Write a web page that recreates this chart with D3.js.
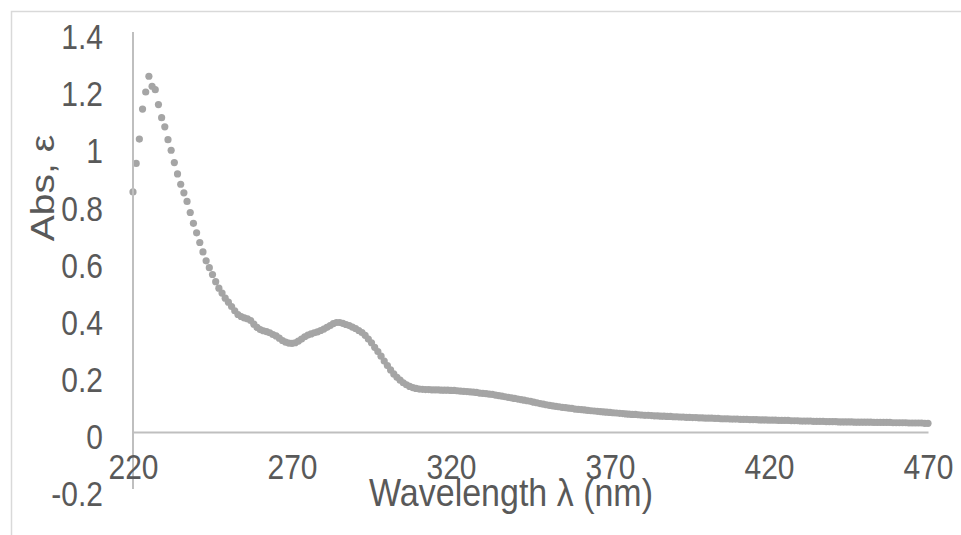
<!DOCTYPE html>
<html>
<head>
<meta charset="utf-8">
<script src="https://cdn.jsdelivr.net/npm/d3@7"></script>
<style>
  html, body { margin: 0; padding: 0; background: #fff; }
  svg { display: block; }
  text { font-family: "Liberation Sans", Arial, sans-serif; fill: #595959; }
</style>
</head>
<body>
<svg id="chart" width="961" height="535"></svg>
<script>
// Wavelength (nm), 1 nm steps from 220 to 470
const wavelengthStart = 220;
const wavelengthEnd = 470;

// Absorbance values, one per nm (220..470)
const absorbance = [
  // 220-229
  0.840, 0.940, 1.025, 1.130, 1.190, 1.245, 1.210, 1.198, 1.146, 1.100,
  // 230-239
  1.068, 1.023, 0.986, 0.943, 0.903, 0.867, 0.837, 0.807, 0.768, 0.730,
  // 240-249
  0.697, 0.663, 0.630, 0.599, 0.575, 0.551, 0.526, 0.503, 0.486, 0.468,
  // 250-259
  0.454, 0.439, 0.424, 0.411, 0.404, 0.399, 0.396, 0.390, 0.377, 0.366,
  // 260-269
  0.358, 0.354, 0.351, 0.347, 0.341, 0.336, 0.328, 0.320, 0.314, 0.311,
  // 270-279
  0.310, 0.312, 0.318, 0.325, 0.333, 0.339, 0.343, 0.347, 0.350, 0.355,
  // 280-289
  0.360, 0.366, 0.372, 0.379, 0.383, 0.383, 0.380, 0.376, 0.372, 0.367,
  // 290-299
  0.362, 0.355, 0.348, 0.338, 0.325, 0.312, 0.296, 0.281, 0.265, 0.248,
  // 300-309
  0.232, 0.217, 0.203, 0.191, 0.181, 0.172, 0.165, 0.159, 0.155, 0.152,
  // 310-319
  0.150, 0.149, 0.148, 0.148, 0.147, 0.147, 0.147, 0.146, 0.146, 0.146,
  // 320-329
  0.145, 0.145, 0.144, 0.143, 0.142, 0.141, 0.140, 0.139, 0.138, 0.136,
  // 330-339
  0.135, 0.134, 0.132, 0.131, 0.129, 0.127, 0.125, 0.123, 0.121, 0.119,
  // 340-349
  0.117, 0.115, 0.113, 0.111, 0.109, 0.107, 0.104, 0.102, 0.099, 0.097,
  // 350-359
  0.095, 0.093, 0.091, 0.089, 0.088, 0.086, 0.085, 0.083, 0.082, 0.080,
  // 360-369
  0.079, 0.078, 0.077, 0.075, 0.074, 0.073, 0.072, 0.071, 0.070, 0.069,
  // 370-379
  0.068, 0.067, 0.066, 0.065, 0.064, 0.063, 0.062, 0.061, 0.061, 0.060,
  // 380-389
  0.059, 0.058, 0.058, 0.057, 0.056, 0.056, 0.055, 0.055, 0.054, 0.054,
  // 390-399
  0.053, 0.053, 0.052, 0.052, 0.051, 0.051, 0.050, 0.050, 0.049, 0.049,
  // 400-409
  0.048, 0.048, 0.048, 0.047, 0.047, 0.046, 0.046, 0.046, 0.045, 0.045,
  // 410-419
  0.045, 0.044, 0.044, 0.044, 0.043, 0.043, 0.043, 0.042, 0.042, 0.042,
  // 420-429
  0.041, 0.041, 0.041, 0.040, 0.040, 0.040, 0.040, 0.039, 0.039, 0.039,
  // 430-439
  0.038, 0.038, 0.038, 0.038, 0.037, 0.037, 0.037, 0.037, 0.036, 0.036,
  // 440-449
  0.036, 0.036, 0.035, 0.035, 0.035, 0.035, 0.035, 0.034, 0.034, 0.034,
  // 450-459
  0.034, 0.034, 0.034, 0.033, 0.033, 0.033, 0.033, 0.033, 0.033, 0.032,
  // 460-469
  0.032, 0.032, 0.032, 0.032, 0.031, 0.031, 0.031, 0.031, 0.031, 0.030,
  // 470
  0.030
];

const xTicks = [220, 270, 320, 370, 420, 470];
const yTicks = [-0.2, 0, 0.2, 0.4, 0.6, 0.8, 1, 1.2, 1.4];
const yTickLabels = ["-0.2", "0", "0.2", "0.4", "0.6", "0.8", "1", "1.2", "1.4"];
const xTitle = "Wavelength λ (nm)";
const yTitle = "Abs, ε";

const data = absorbance.map((v, i) => ({ wl: wavelengthStart + i, abs: v }));

const svg = d3.select("#chart");
const stretch = 1.15;

// chart area border
svg.append("rect")
  .attr("x", 11.5).attr("y", 11.5)
  .attr("width", 980).attr("height", 560)
  .attr("fill", "none").attr("stroke", "#d9d9d9").attr("stroke-width", 1.5);

const x = d3.scaleLinear().domain([wavelengthStart, wavelengthEnd]).range([133, 928]);
const y = d3.scaleLinear().domain([-0.2, 1.4]).range([489, 32]);

// markers
svg.append("g")
  .selectAll("circle")
  .data(data)
  .join("circle")
  .attr("cx", d => x(d.wl))
  .attr("cy", d => y(d.abs))
  .attr("r", 3.6)
  .attr("fill", "#a5a5a5");

const axisColor = "#bfbfbf";

// y axis
const yAxis = d3.axisLeft(y).tickValues(yTicks).tickSize(0)
  .tickFormat((d, i) => yTickLabels[i]);
const yg = svg.append("g").attr("transform", `translate(${x(wavelengthStart)},0)`).call(yAxis);
yg.select(".domain").attr("stroke", axisColor).attr("stroke-width", 2)
  .attr("d", `M0,${y(1.4)}V${y(-0.2)}`);
yg.selectAll("text")
  .attr("x", null).attr("dy", null)
  .attr("dominant-baseline", "central")
  .attr("transform", `translate(-30,5) scale(1,${stretch})`)
  .style("font-size", "30px")
  .attr("fill", "#595959");

// x axis
const xAxis = d3.axisBottom(x).tickValues(xTicks).tickSize(0).tickFormat(d3.format("d"));
const xg = svg.append("g").attr("transform", `translate(0,${y(0)})`).call(xAxis);
xg.select(".domain").attr("stroke", axisColor).attr("stroke-width", 2);
xg.selectAll("text")
  .attr("y", null).attr("dy", null)
  .attr("dominant-baseline", "central")
  .attr("transform", `translate(0,35) scale(1,${stretch})`)
  .style("font-size", "30px")
  .attr("fill", "#595959");

// axis titles
svg.append("text")
  .attr("transform", `translate(511,493) scale(1,${stretch})`)
  .attr("text-anchor", "middle")
  .attr("dominant-baseline", "central")
  .style("font-size", "34px")
  .text(xTitle);

svg.append("text")
  .attr("transform", `translate(42,188) rotate(-90) scale(${stretch},1)`)
  .attr("text-anchor", "middle")
  .attr("dominant-baseline", "central")
  .style("font-size", "34px")
  .text(yTitle);
</script>
</body>
</html>
